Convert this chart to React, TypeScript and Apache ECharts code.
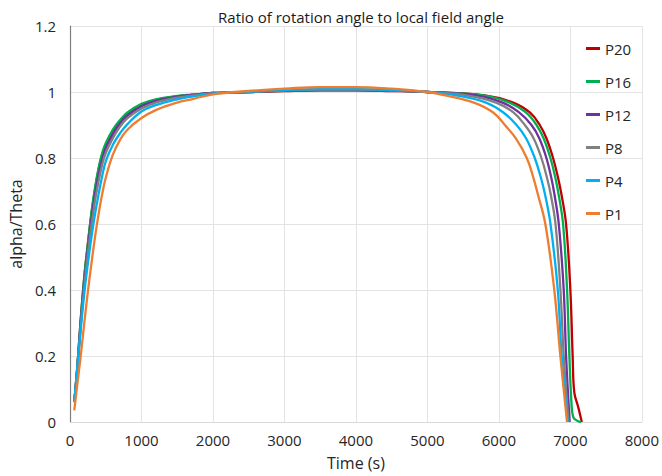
import React, { useEffect, useRef } from "react";
import * as echarts from "echarts";

const seriesNames = ["P20", "P16", "P12", "P8", "P4", "P1"];
const seriesColors = ["#C00000", "#00B050", "#7030A0", "#808080", "#00B0F0", "#ED7D31"];

// shared rise / plateau times (s)
const riseTimes = [60, 100, 150, 200, 250, 300, 350, 400, 450, 500, 600, 700, 800, 1000, 1200, 1500, 1700, 2000, 2500, 3000, 3500, 4000, 4500, 5000];

const p20Rise = [0.06, 0.16, 0.31, 0.44, 0.54, 0.63, 0.705, 0.765, 0.81, 0.84, 0.882, 0.912, 0.934, 0.961, 0.976, 0.987, 0.991, 0.997, 1.0, 1.003, 1.005, 1.005, 1.003, 1.0];
const p16Rise = [0.06, 0.16, 0.31, 0.44, 0.54, 0.635, 0.71, 0.77, 0.815, 0.845, 0.886, 0.915, 0.937, 0.964, 0.978, 0.988, 0.992, 0.997, 1.0, 1.004, 1.006, 1.006, 1.004, 1.0];
const p12Rise = [0.06, 0.155, 0.3, 0.425, 0.525, 0.615, 0.69, 0.75, 0.795, 0.83, 0.872, 0.905, 0.928, 0.957, 0.973, 0.986, 0.991, 0.997, 1.0, 1.004, 1.006, 1.006, 1.004, 1.0];
const p8Rise = [0.06, 0.15, 0.29, 0.41, 0.51, 0.595, 0.67, 0.73, 0.78, 0.815, 0.86, 0.895, 0.92, 0.95, 0.968, 0.983, 0.989, 0.996, 1.0, 1.005, 1.007, 1.007, 1.005, 1.0];
const p4Rise = [0.06, 0.16, 0.28, 0.39, 0.48, 0.56, 0.63, 0.69, 0.745, 0.79, 0.84, 0.875, 0.902, 0.941, 0.96, 0.978, 0.986, 0.995, 1.001, 1.006, 1.009, 1.009, 1.006, 1.0];
const p1Rise = [0.035, 0.11, 0.2, 0.3, 0.395, 0.48, 0.56, 0.63, 0.69, 0.74, 0.81, 0.855, 0.885, 0.921, 0.945, 0.968, 0.978, 0.993, 1.003, 1.01, 1.015, 1.015, 1.01, 1.0];

// fall portion, per series (times and values)
const p20FallTimes = [5800, 6200, 6433, 6572, 6665, 6758, 6828, 6875, 6940, 7000, 7032, 7055, 7110, 7160];
const p20Fall = [0.99, 0.968, 0.938, 0.9, 0.86, 0.8, 0.74, 0.69, 0.6, 0.4, 0.2, 0.09, 0.045, 0];
const p16FallTimes = [5780, 6150, 6378, 6526, 6625, 6721, 6790, 6835, 6898, 6954, 6986, 7015, 7040, 7095, 7150];
const p16Fall = [0.99, 0.968, 0.938, 0.9, 0.86, 0.8, 0.74, 0.69, 0.6, 0.4, 0.2, 0.06, 0.015, 0.004, 0];
const p12FallTimes = [5680, 6050, 6283, 6456, 6565, 6665, 6733, 6777, 6838, 6907, 6940, 6990];
const p12Fall = [0.99, 0.968, 0.938, 0.9, 0.86, 0.8, 0.74, 0.69, 0.6, 0.4, 0.2, 0];
const p8FallTimes = [5550, 5960, 6203, 6363, 6485, 6595, 6673, 6725, 6792, 6861, 6907, 6975];
const p8Fall = [0.99, 0.968, 0.938, 0.9, 0.86, 0.8, 0.74, 0.69, 0.6, 0.4, 0.2, 0];
const p4FallTimes = [5400, 5820, 6063, 6247, 6380, 6502, 6588, 6645, 6722, 6824, 6879, 6962];
const p4Fall = [0.99, 0.968, 0.938, 0.9, 0.86, 0.8, 0.74, 0.69, 0.6, 0.4, 0.2, 0];
const p1FallTimes = [5250, 5650, 5920, 6084, 6235, 6390, 6483, 6545, 6650, 6775, 6860, 6953];
const p1Fall = [0.99, 0.968, 0.938, 0.9, 0.86, 0.8, 0.74, 0.69, 0.6, 0.4, 0.2, 0];

const xTicks = [0, 1000, 2000, 3000, 4000, 5000, 6000, 7000, 8000];
const yTicks = [0, 0.2, 0.4, 0.6, 0.8, 1, 1.2];

const riseSets = [p20Rise, p16Rise, p12Rise, p8Rise, p4Rise, p1Rise];
const fallTimeSets = [p20FallTimes, p16FallTimes, p12FallTimes, p8FallTimes, p4FallTimes, p1FallTimes];
const fallSets = [p20Fall, p16Fall, p12Fall, p8Fall, p4Fall, p1Fall];

const FONT = "'Open Sans', 'Liberation Sans', sans-serif";
const TXT = "#262626";

export default function App() {
  const ref = useRef<HTMLDivElement>(null);
  useEffect(() => {
    if (!ref.current) return;
    const chart = echarts.init(ref.current, undefined, { renderer: "svg" });
    const series = seriesNames.map((name, i) => {
      const data: number[][] = [];
      riseTimes.forEach((t, k) => data.push([t, riseSets[i][k]]));
      fallTimeSets[i].forEach((t, k) => data.push([t, fallSets[i][k]]));
      return {
        name,
        type: "line",
        data,
        showSymbol: false,
        symbol: "none",
        smooth: 0.4,
        lineStyle: { width: 2.3, color: seriesColors[i] },
        itemStyle: { color: seriesColors[i] },
      };
    });
    chart.setOption({
      animation: false,
      backgroundColor: "#ffffff",
      title: {
        text: "Ratio of rotation angle to local field angle",
        left: 356,
        top: 4,
        textAlign: "center",
        textStyle: { fontFamily: FONT, fontSize: 15, fontWeight: "normal", color: "#1a1a1a" },
      },
      grid: { left: 68, top: 26, width: 577, height: 396, containLabel: false },
      legend: {
        orient: "vertical",
        left: 581,
        top: 35,
        itemWidth: 14,
        itemHeight: 3,
        itemGap: 16,
        icon: "rect",
        data: seriesNames,
        textStyle: { fontFamily: FONT, fontSize: 15, color: TXT, lineHeight: 17 },
      },
      xAxis: {
        type: "value",
        min: 0,
        max: 8000,
        interval: 1000,
        name: "Time (s)",
        nameLocation: "middle",
        nameGap: 33,
        nameTextStyle: { fontFamily: FONT, fontSize: 16, color: TXT },
        axisLine: { show: true, lineStyle: { color: "#d9d9d9", width: 1 } },
        axisTick: { show: false },
        axisLabel: {
          fontFamily: FONT,
          fontSize: 15,
          color: TXT,
          margin: 10,
          formatter: (v: number) => (xTicks.includes(v) ? String(v) : ""),
        },
        splitLine: { show: true, lineStyle: { color: "#e3e3e3", width: 1 } },
      },
      yAxis: {
        type: "value",
        min: 0,
        max: 1.2,
        interval: 0.2,
        name: "alpha/Theta",
        nameLocation: "middle",
        nameGap: 40,
        nameTextStyle: { fontFamily: FONT, fontSize: 16, color: TXT },
        axisLine: { show: true, lineStyle: { color: "#7f7f7f", width: 1.2 } },
        axisTick: { show: false },
        axisLabel: {
          fontFamily: FONT,
          fontSize: 15,
          color: TXT,
          margin: 14,
          formatter: (v: number) => {
            const r = Math.round(v * 10) / 10;
            return yTicks.some((t) => Math.abs(t - r) < 1e-9) ? String(r) : "";
          },
        },
        splitLine: { show: true, lineStyle: { color: "#e3e3e3", width: 1 } },
      },
      series,
    });
    return () => chart.dispose();
  }, []);
  return (
    <div
      ref={ref}
      style={{ position: "fixed", left: 0, top: 0, width: 662, height: 476, background: "#fff" }}
    />
  );
}
